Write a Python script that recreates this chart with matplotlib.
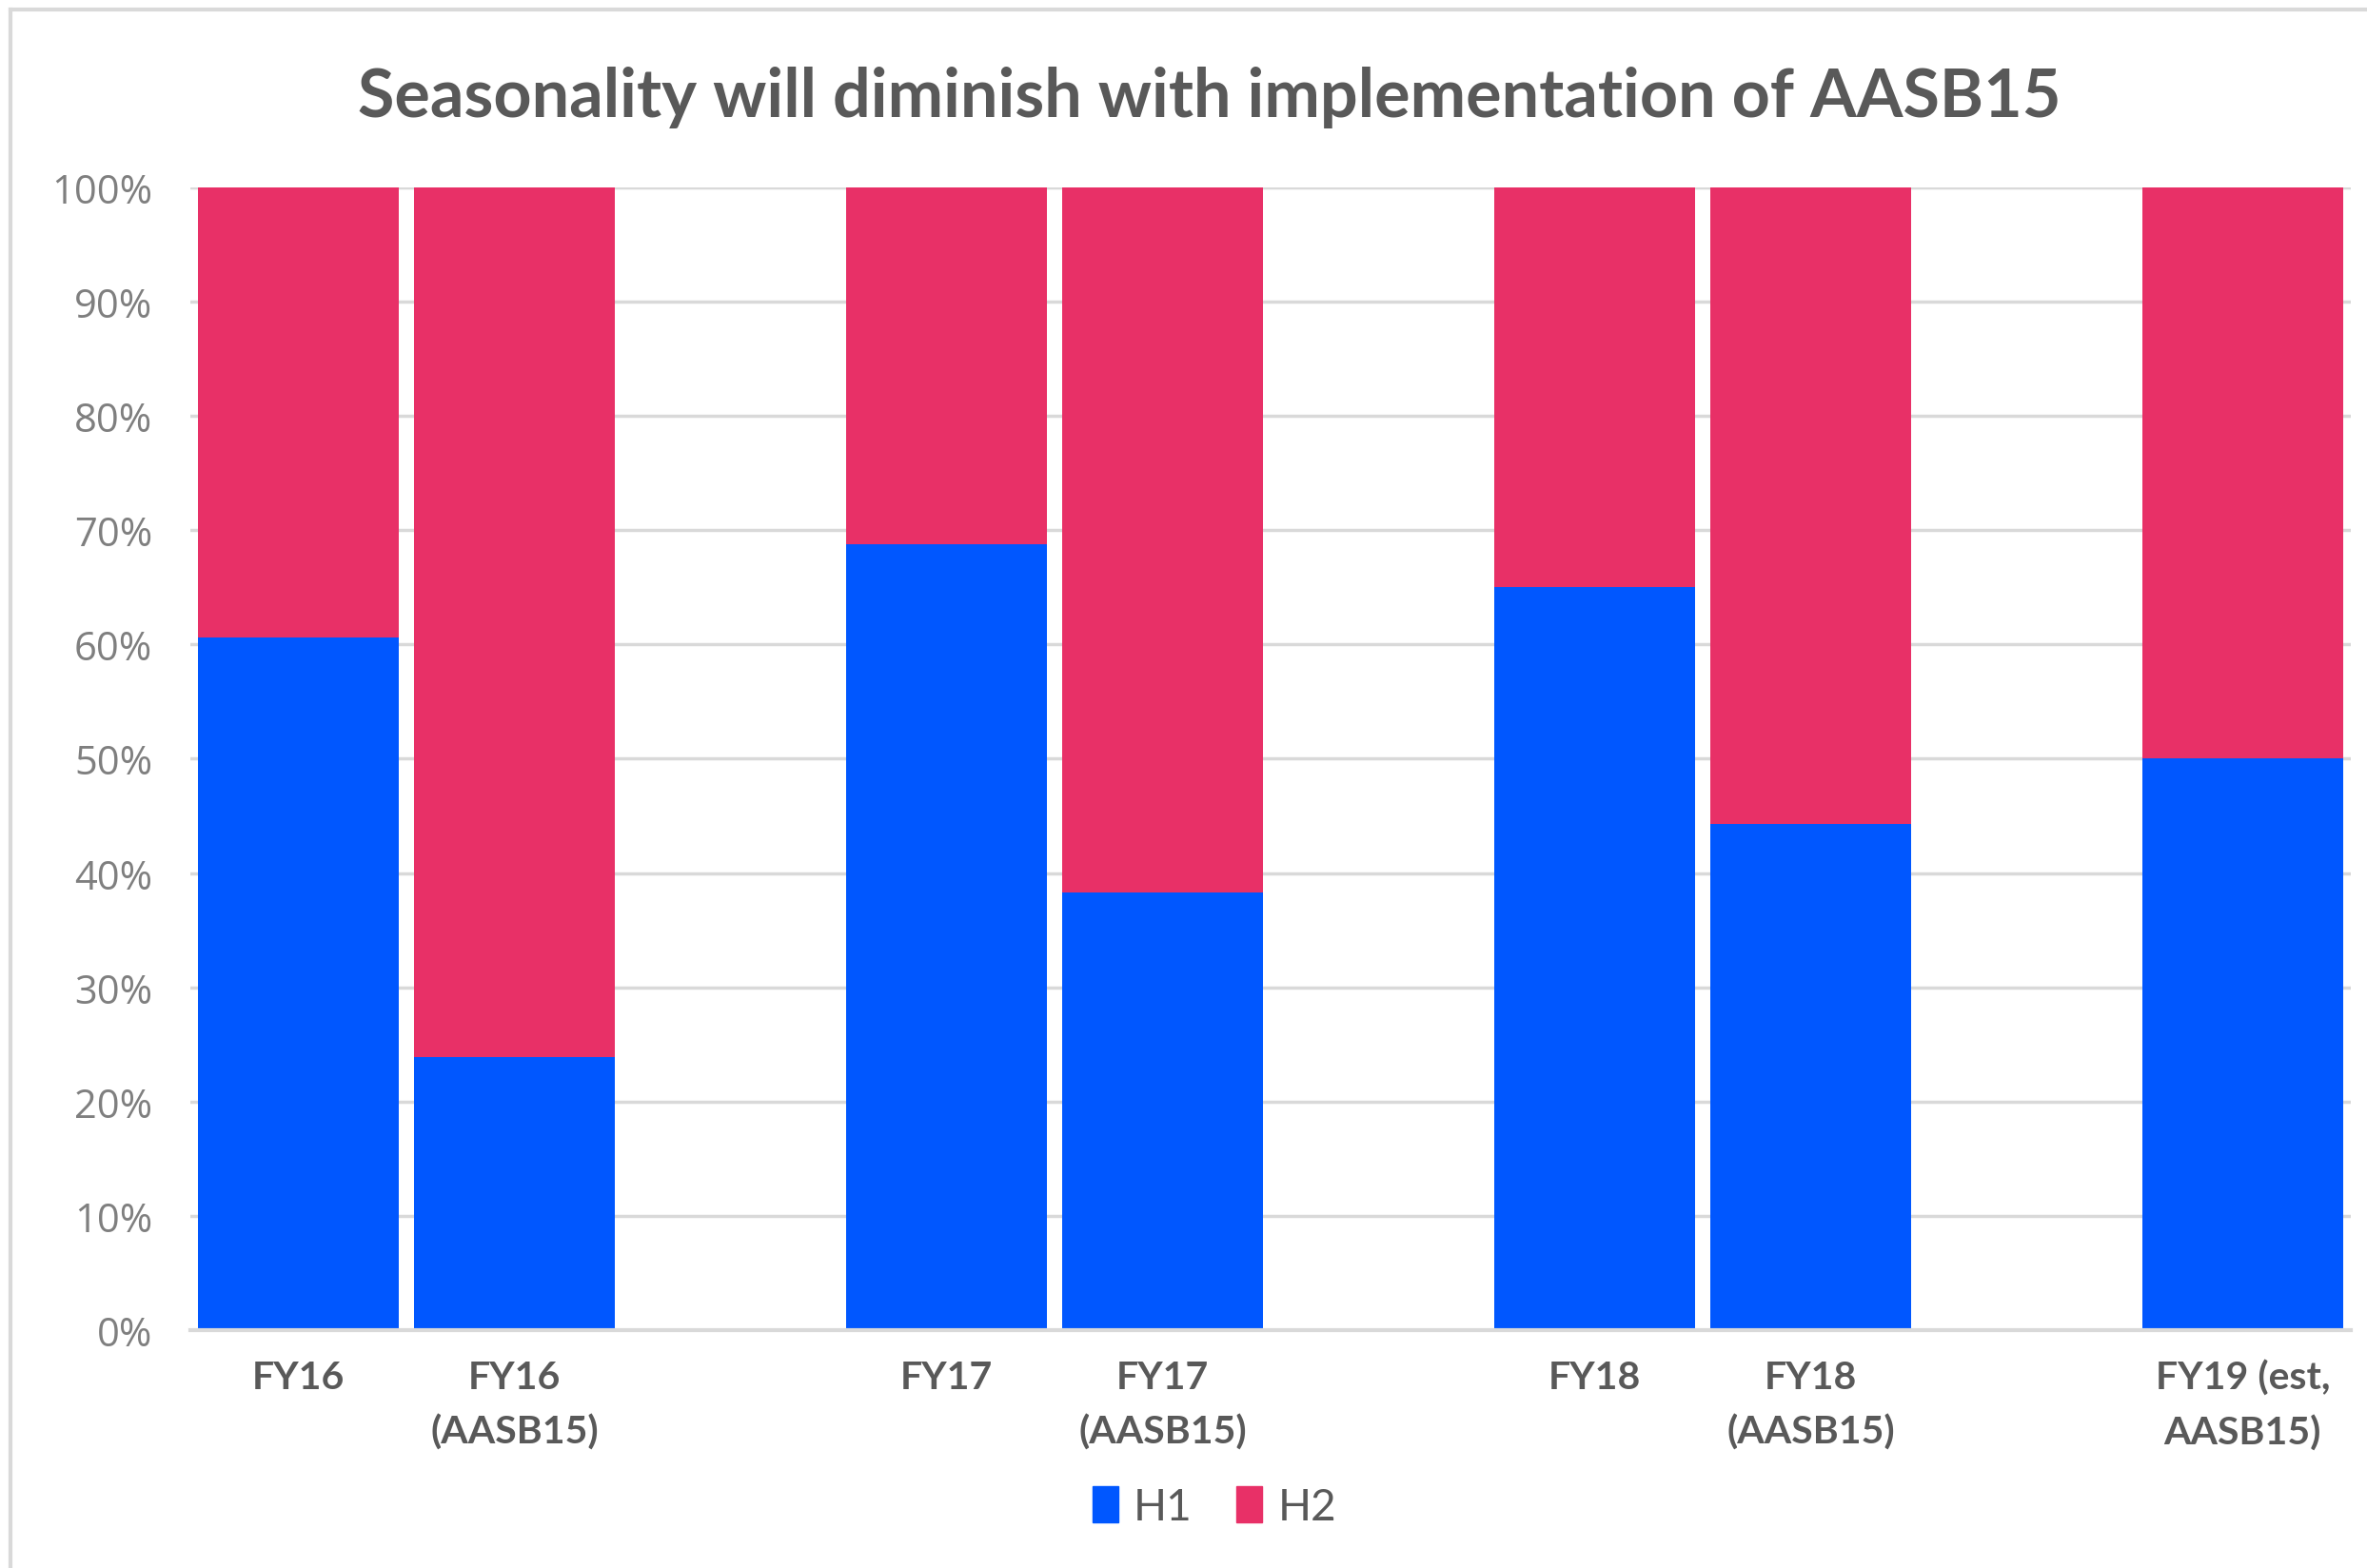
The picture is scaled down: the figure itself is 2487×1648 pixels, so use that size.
import matplotlib.pyplot as plt
from matplotlib.lines import Line2D
from matplotlib.patches import Patch

labels = ['FY16', 'FY16\n(AASB15)', '', 'FY17', 'FY17\n(AASB15)', '',
          'FY18', 'FY18\n(AASB15)', '', 'FY19 (est,\nAASB15)']
h1 = [60.6, 23.9, 0, 68.8, 38.3, 0, 65.0, 44.3, 0, 50.0]
h2 = [39.4, 76.1, 0, 31.2, 61.7, 0, 35.0, 55.7, 0, 50.0]

blue = '#0057FF'
pink = '#E83067'
text_grey = '#595959'

fig = plt.figure(figsize=(24.87, 16.49), dpi=100)
ax = fig.add_axes([0.0806, 0.1516, 0.9125, 0.7284])

x = range(len(labels))
ax.bar(x, h1, width=0.93, color=blue, zorder=3)
ax.bar(x, h2, width=0.93, bottom=h1, color=pink, zorder=3)

ax.set_xlim(-0.5, 9.5)
ax.set_ylim(0, 100)
ax.set_yticks(range(0, 101, 10))
ax.set_yticklabels([f'{v}%' for v in range(0, 101, 10)],
                   fontfamily='Open Sans', fontsize=30, color='#7F7F7F')
ax.set_xticks(list(x))
ax.set_xticklabels(labels, fontfamily='Lato', fontweight='bold',
                   fontsize=29.5, color=text_grey, linespacing=1.65)
ax.tick_params(axis='both', length=0)
ax.tick_params(axis='x', pad=22)
ax.tick_params(axis='y', pad=29)
ax.grid(axis='y', color='#D9D9D9', linewidth=2.5, zorder=0)
for s in ['top', 'right', 'left']:
    ax.spines[s].set_visible(False)
ax.spines['bottom'].set_color('#D9D9D9')
ax.spines['bottom'].set_linewidth(3)
ax.spines['bottom'].set_zorder(4)

fig.text(0.511, 0.938, 'Seasonality will diminish with implementation of AASB15',
         ha='center', va='center', fontfamily='Lato', fontweight='bold',
         fontsize=50.5, color=text_grey)

handles = [Patch(color=blue, label='H1'), Patch(color=pink, label='H2')]
fig.legend(handles=handles, loc='center', bbox_to_anchor=(0.513, 0.039), ncol=2,
           frameon=False, prop={'family': 'Lato', 'size': 33},
           labelcolor=text_grey, handlelength=0.6, handleheight=0.9,
           handletextpad=0.35, columnspacing=1.0)

# outer frame lines (top and left)
fig.add_artist(Line2D([0.0045, 1], [0.9935, 0.9935], color='#D9D9D9', linewidth=3))
fig.add_artist(Line2D([0.0045, 0.0045], [0, 0.9935], color='#D9D9D9', linewidth=3))

fig.savefig('out.png', dpi=100, facecolor='white')
